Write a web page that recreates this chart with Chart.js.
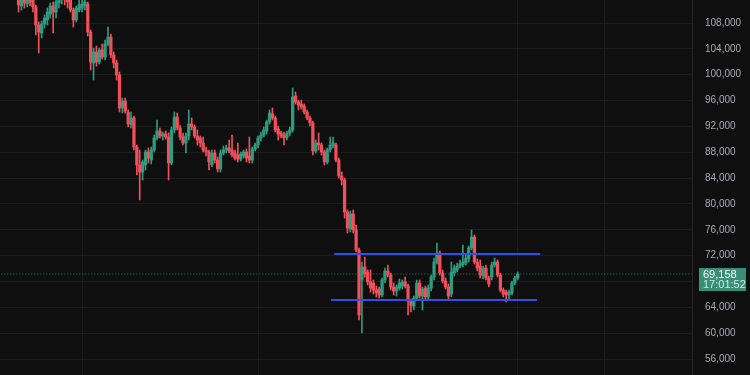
<!DOCTYPE html>
<html>
<head>
<meta charset="utf-8">
<script src="https://cdn.jsdelivr.net/npm/chart.js@4"></script>
<style>
  html, body { margin: 0; padding: 0; background: #0f0f0f; }
  #wrap { width: 750px; height: 375px; position: relative; }
</style>
</head>
<body>
<div id="wrap"><canvas id="btcChart"></canvas></div>
<script>
// Daily BTC candles. Day numbers count from the left edge of the window.
var startDay = 6;

var opens = [
  114650, 110630, 111870, 110940, 112490, 111560, 110480, 107690, 106450, 107850,
  108470, 109390, 110630, 109700, 111100, 112030, 112800, 111870, 111870, 110010,
  108470, 110010, 110320, 110630, 110940, 106610, 101810, 103510, 101970, 103820,
  102740, 104750, 105830, 103050, 101810, 99950, 94850, 95930, 94230, 92220,
  93300, 88810, 86030, 84940, 86030, 88040, 86800, 88350, 90200, 91290,
  90510, 90820, 90360, 86330, 91440, 93450, 91750, 90360, 89430, 90510,
  92370, 91910, 90510, 90200, 89430, 88350, 88040, 86030, 87880, 86800,
  85410, 87880, 88350, 88660, 88350, 87880, 87570, 86950, 87420, 88040,
  87420, 86800, 88500, 89120, 90200, 90670, 91290, 92680, 93920, 93300,
  91600, 90980, 90670, 90200, 90980, 91440, 96700, 95780, 95470, 95160,
  94230, 93300, 92530, 88190, 89430, 89120, 88040, 86490, 88350, 88970,
  89120, 86800, 84320, 83700, 78750, 76120, 78440, 75970, 72870, 68230,
  70240, 69470, 67920, 67760, 66680, 66830, 65910, 68230, 69620, 69000,
  67140, 66530, 66990, 67300, 67920, 67300, 64980, 64200, 65440, 67760,
  65750, 66990, 65600, 66990, 68690, 71010, 72410, 69310, 68070, 67140,
  66060, 69310, 69780, 70390, 70550, 70860, 71480, 73180, 74880, 71010,
  70390, 68850, 70080, 68540, 68690, 70550, 71010, 69000, 66680, 66370,
  65910, 66220, 67760, 68540
];

var highs = [
  116200, 112490, 112800, 113110, 113110, 112030, 110790, 108160, 108310, 109240,
  110320, 111100, 111250, 111560, 112800, 113880, 113420, 112490, 112340, 110320,
  110630, 111560, 111870, 111710, 111250, 106920, 104130, 104440, 104130, 104750,
  105370, 107380, 106300, 103510, 102270, 100420, 96390, 96390, 94540, 94230,
  93610, 89120, 88350, 86800, 88350, 88660, 88810, 90670, 92990, 91750,
  91130, 91290, 90980, 91910, 94230, 94070, 92220, 90980, 90980, 94540,
  93300, 92220, 91440, 90510, 90360, 88810, 88350, 88350, 88350, 87260,
  88350, 88970, 89120, 89890, 90670, 88350, 89430, 88040, 88350, 88500,
  90360, 88810, 89430, 90510, 91130, 91910, 92990, 94540, 94850, 93610,
  92060, 91290, 91130, 91290, 91910, 97940, 97320, 96080, 96080, 95470,
  94540, 93610, 92830, 89890, 90980, 89430, 88350, 88660, 90360, 90360,
  89430, 87110, 84940, 84010, 79060, 78910, 79060, 76740, 73180, 71010,
  71790, 69780, 69780, 68230, 67300, 67140, 68540, 70080, 70550, 69310,
  67760, 67450, 68380, 68230, 68690, 67610, 65290, 65750, 68230, 68230,
  67140, 67300, 67450, 69000, 71630, 73950, 72720, 69780, 68540, 67610,
  71010, 70550, 70860, 71320, 73640, 72100, 73490, 75970, 75190, 71480,
  71320, 70390, 70550, 68850, 71010, 71630, 71320, 69310, 66990, 66680,
  66680, 68070, 68850, 69470
];

var lows = [
  109700, 110010, 110320, 110480, 110630, 109700, 106140, 103360, 105680, 107230,
  107690, 108770, 106450, 108770, 110320, 110940, 110790, 110320, 109700, 107380,
  108160, 109700, 109700, 110010, 105990, 100730, 99180, 101350, 101660, 102430,
  102270, 104440, 102580, 101040, 99180, 94230, 94070, 94070, 91910, 91750,
  88350, 84480, 80610, 83700, 85250, 86330, 86180, 88040, 89890, 90200,
  89890, 90050, 83700, 86030, 90980, 91440, 89890, 89120, 87880, 89890,
  91440, 90200, 89120, 88810, 88040, 87420, 85250, 85720, 86330, 84940,
  84940, 87570, 87880, 87880, 87260, 86800, 86490, 86640, 87110, 86490,
  86330, 86330, 88190, 88660, 89740, 90360, 90820, 92370, 92990, 91130,
  89890, 90200, 89120, 89890, 90510, 91130, 95470, 94540, 94690, 93920,
  92990, 92060, 87570, 87880, 88350, 87570, 86030, 86180, 88040, 88660,
  86490, 84010, 82930, 77820, 75500, 75660, 75500, 72560, 62040, 60030,
  68690, 67450, 66370, 66060, 65600, 65440, 65600, 67760, 68690, 66680,
  65910, 65750, 66680, 66830, 66990, 62810, 63280, 63580, 65130, 65440,
  63580, 65130, 65130, 66530, 68230, 70700, 69000, 67760, 66830, 65290,
  65600, 68850, 69470, 70080, 70240, 70550, 71010, 72870, 70700, 69620,
  68540, 68380, 68230, 67140, 68230, 70240, 68690, 66370, 65600, 64820,
  65130, 65910, 67450, 68230
];

var closes = [
  110790, 111870, 111100, 112490, 111250, 110480, 107690, 106610, 107850, 108770,
  109700, 110630, 109700, 111250, 112180, 113110, 111870, 111250, 110010, 108470,
  110320, 110790, 110940, 111250, 106610, 101970, 103510, 101970, 103820, 102740,
  104750, 105830, 103050, 101810, 99950, 94850, 95930, 94380, 92370, 93300,
  88810, 86030, 84940, 86490, 88040, 87110, 88350, 90200, 91290, 90510,
  90820, 90360, 86330, 91440, 93450, 91750, 90360, 89430, 90510, 92370,
  91910, 90510, 89890, 89430, 88350, 88040, 86490, 87880, 86800, 85410,
  87880, 88350, 88660, 88190, 87570, 87110, 86950, 87730, 88040, 87110,
  86800, 88500, 89120, 90200, 90670, 91440, 92680, 94070, 93300, 91440,
  90820, 90510, 90200, 90980, 91440, 96550, 95780, 95310, 95000, 94230,
  93300, 92530, 88190, 89430, 89120, 88040, 86490, 88350, 89120, 89430,
  86800, 84320, 83700, 78750, 76280, 78440, 75970, 72870, 62810, 70240,
  69160, 67920, 66990, 66680, 66220, 65910, 68230, 69620, 69000, 67140,
  66530, 67140, 67760, 67920, 67300, 64980, 64200, 65440, 67760, 65750,
  66830, 65600, 66990, 68690, 71010, 72410, 69310, 68070, 67140, 65750,
  69470, 70080, 70390, 70700, 71010, 71630, 73180, 74880, 71010, 70080,
  69000, 70080, 68540, 67610, 70550, 71010, 69000, 66680, 66060, 65910,
  66370, 67760, 68540, 69158
];

// Right axis labels and vertical grid days (month starts)
var priceTicks = [56000, 60000, 64000, 68000, 72000, 76000, 80000, 84000, 88000, 92000, 96000, 100000, 104000, 108000];
var monthDays = [28, 89, 179, 209];

// Last trade and the two drawn range lines
var lastPrice = 69158;
var lastTime = '17:01:52';
var rangeTop = [72250, 115.4, 186.8];    // price, from day, to day
var rangeBottom = [65130, 114.3, 185.7];

var upColor = '#2e9c81';
var downColor = '#ef5059';

var wickData = [], bodyData = [], candleColors = [];
for (var k = 0; k < closes.length; k++) {
    var day = startDay + k;
    wickData.push({ x: day, y: [lows[k], highs[k]] });
    bodyData.push({ x: day, y: [opens[k], closes[k]] });
    candleColors.push(closes[k] >= opens[k] ? upColor : downColor);
}

// Last price tag on the right axis
var priceTag = {
    id: 'priceTag',
    afterDraw: function (chart) {
        var c = chart.ctx;
        var y = chart.scales.y.getPixelForValue(lastPrice);
        var x0 = chart.chartArea.right + 7;
        c.save();
        c.fillStyle = '#388e76';
        c.fillRect(x0, y - 6, 47, 23);
        c.textBaseline = 'middle';
        c.textAlign = 'left';
        c.font = '11px "Liberation Sans", Arial, sans-serif';
        c.fillStyle = '#ffffff';
        c.fillText(lastPrice.toLocaleString('en-US'), x0 + 4, y + 0.5);
        c.fillStyle = '#cfe9df';
        c.fillText(lastTime, x0 + 4, y + 11);
        c.restore();
    }
};

var ctx = document.getElementById('btcChart').getContext('2d');
new Chart(ctx, {
    type: 'bar',
    data: {
        datasets: [
            {
                type: 'line',
                data: [{ x: -1, y: lastPrice }, { x: 240, y: lastPrice }],
                borderColor: 'rgba(70,150,125,0.75)',
                borderWidth: 1,
                borderDash: [1, 2],
                pointRadius: 0,
                order: 5
            },
            {
                data: wickData,
                backgroundColor: candleColors,
                barThickness: 1,
                grouped: false,
                order: 4
            },
            {
                data: bodyData,
                backgroundColor: candleColors,
                barThickness: 2.6,
                minBarLength: 1,
                grouped: false,
                order: 3
            },
            {
                type: 'line',
                data: [{ x: rangeTop[1], y: rangeTop[0] }, { x: rangeTop[2], y: rangeTop[0] }],
                borderColor: '#2f50e6',
                borderWidth: 2,
                pointRadius: 0,
                order: 1
            },
            {
                type: 'line',
                data: [{ x: rangeBottom[1], y: rangeBottom[0] }, { x: rangeBottom[2], y: rangeBottom[0] }],
                borderColor: '#2f50e6',
                borderWidth: 2,
                pointRadius: 0,
                order: 1
            }
        ]
    },
    options: {
        responsive: true,
        maintainAspectRatio: false,
        animation: false,
        layout: { padding: 0 },
        plugins: {
            legend: { display: false },
            tooltip: { enabled: false }
        },
        scales: {
            x: {
                type: 'linear',
                min: -0.42,
                max: 239.4,
                offset: false,
                grid: { offset: false, color: '#1b1b1b', drawTicks: false },
                border: { display: false },
                ticks: { display: false },
                afterBuildTicks: function (s) { s.ticks = monthDays.map(function (v) { return { value: v }; }); },
                afterFit: function (s) { s.height = 0; s.paddingLeft = 0; s.paddingRight = 0; }
            },
            y: {
                position: 'right',
                min: 53525,
                max: 111560,
                grid: { color: '#1b1b1b', drawTicks: false },
                border: { color: '#262626' },
                ticks: {
                    color: '#a9abb1',
                    padding: 13,
                    font: { family: '"Liberation Sans", Arial, sans-serif', size: 10 },
                    callback: function (v) { return v.toLocaleString('en-US'); }
                },
                afterBuildTicks: function (s) { s.ticks = priceTicks.map(function (v) { return { value: v }; }); },
                afterFit: function (s) { s.width = 58; s.paddingTop = 0; s.paddingBottom = 0; }
            }
        }
    },
    plugins: [priceTag]
});
</script>
</body>
</html>
